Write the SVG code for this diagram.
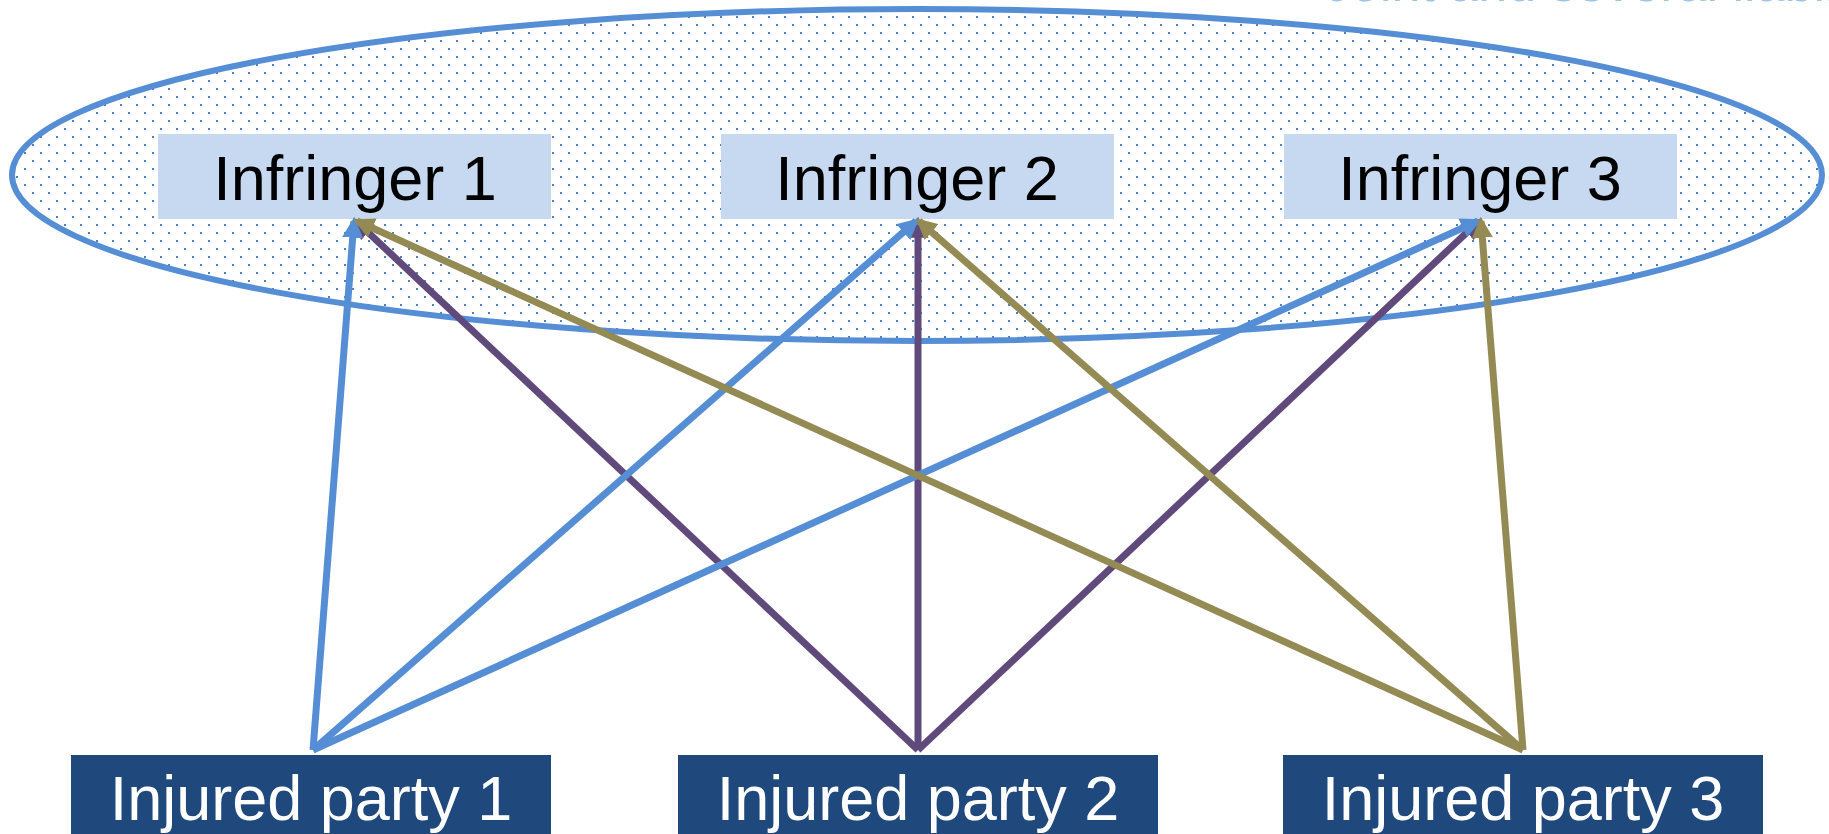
<svg xmlns="http://www.w3.org/2000/svg" width="1829" height="834" viewBox="0 0 1829 834">
<style>
.inf rect{fill:#c6d9f1}
.inf text{font-family:"Liberation Sans",Arial,sans-serif;font-size:63px;fill:#000;text-anchor:middle}
.inj rect{fill:#1f497d}
.inj text{font-family:"Liberation Sans",Arial,sans-serif;font-size:63px;fill:#fff;text-anchor:middle}
.b{stroke:#558ed5;stroke-width:7;fill:none;marker-end:url(#hb)}
.p{stroke:#604a7b;stroke-width:7;fill:none;marker-end:url(#hp)}
.o{stroke:#948a54;stroke-width:7;fill:none;marker-end:url(#ho)}
</style>
<defs>
<pattern id="dots" width="16" height="16" patternUnits="userSpaceOnUse">
<rect x="0" y="0" width="2" height="2" fill="#4f81bd"/>
<rect x="8" y="8" width="2" height="2" fill="#4f81bd"/>
</pattern>
<marker id="hb" viewBox="0 0 10 10" refX="8" refY="5" markerWidth="3" markerHeight="3" orient="auto"><path d="M0,0 L10,5 L0,10 z" fill="#558ed5"/></marker>
<marker id="hp" viewBox="0 0 10 10" refX="8" refY="5" markerWidth="3" markerHeight="3" orient="auto"><path d="M0,0 L10,5 L0,10 z" fill="#604a7b"/></marker>
<marker id="ho" viewBox="0 0 10 10" refX="8" refY="5" markerWidth="3" markerHeight="3" orient="auto"><path d="M0,0 L10,5 L0,10 z" fill="#948a54"/></marker>
</defs>
<rect width="1829" height="834" fill="#fff"/>
<text x="1325" y="1" font-family="Liberation Sans,Arial,sans-serif" font-size="52" fill="#9dc3e6">Joint and several liability</text>
<g id="group-ellipse">
<ellipse cx="917" cy="175" rx="905" ry="166" fill="#fff"/>
<ellipse cx="917" cy="175" rx="905" ry="166" fill="url(#dots)" stroke="#558ed5" stroke-width="6"/>
</g>
<g id="infringer1" class="inf"><rect x="158" y="134" width="393" height="85"/><text x="355" y="200">Infringer 1</text></g>
<g id="infringer2" class="inf"><rect x="721" y="134" width="393" height="85"/><text x="917" y="200">Infringer 2</text></g>
<g id="infringer3" class="inf"><rect x="1284" y="134" width="393" height="85"/><text x="1480" y="200">Infringer 3</text></g>
<g id="injured1" class="inj"><rect x="71" y="755" width="480" height="79"/><text x="311" y="820">Injured party 1</text></g>
<g id="injured2" class="inj"><rect x="678" y="755" width="480" height="79"/><text x="918" y="820">Injured party 2</text></g>
<g id="injured3" class="inj"><rect x="1283" y="755" width="480" height="79"/><text x="1523" y="820">Injured party 3</text></g>
<g id="connectors">
<line class="p" x1="918" y1="750" x2="356" y2="221"/>
<line class="p" x1="918" y1="750" x2="918" y2="221"/>
<line class="p" x1="918" y1="750" x2="1479" y2="221"/>
<line class="b" x1="313" y1="750" x2="354" y2="221"/>
<line class="b" x1="313" y1="750" x2="916" y2="221"/>
<line class="b" x1="313" y1="750" x2="1478" y2="221"/>
<line class="o" x1="1523" y1="750" x2="357" y2="221"/>
<line class="o" x1="1523" y1="750" x2="919" y2="221"/>
<line class="o" x1="1523" y1="750" x2="1481" y2="221"/>
</g>
</svg>
